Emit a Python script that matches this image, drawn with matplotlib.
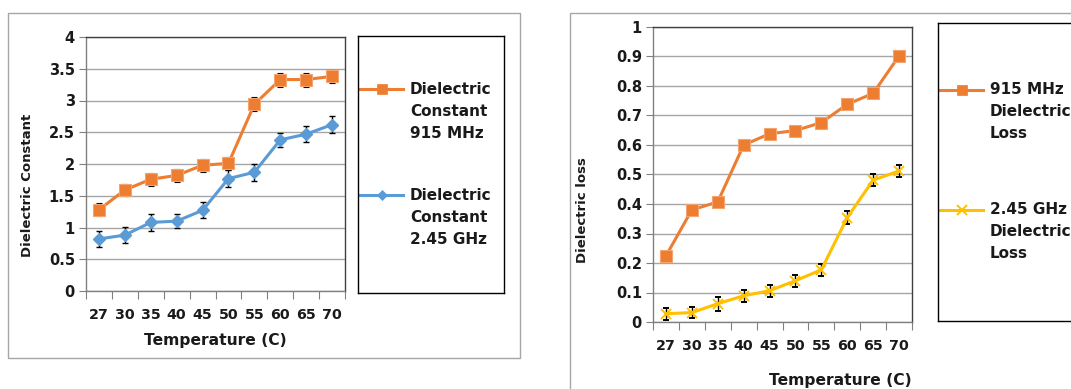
import matplotlib
matplotlib.use('Agg')
import matplotlib.pyplot as plt
from matplotlib.patches import Rectangle
import numpy as np

# ---------------- data ----------------
temps = ['27', '30', '35', '40', '45', '50', '55', '60', '65', '70']

dc_915 = [1.28, 1.59, 1.76, 1.82, 1.98, 2.01, 2.94, 3.33, 3.33, 3.38]
dc_915_err = [0.10, 0.10, 0.10, 0.10, 0.10, 0.10, 0.11, 0.11, 0.11, 0.10]
dc_245 = [0.82, 0.88, 1.08, 1.10, 1.27, 1.77, 1.87, 2.38, 2.47, 2.62]
dc_245_err = [0.125, 0.125, 0.13, 0.115, 0.125, 0.13, 0.13, 0.115, 0.13, 0.13]

dl_915 = [0.224, 0.380, 0.407, 0.600, 0.638, 0.649, 0.676, 0.738, 0.775, 0.902]
dl_915_err = [0.015, 0.015, 0.015, 0.015, 0.015, 0.012, 0.015, 0.015, 0.015, 0.015]
dl_245 = [0.028, 0.032, 0.062, 0.089, 0.106, 0.140, 0.177, 0.354, 0.481, 0.512]
dl_245_err = [0.021, 0.020, 0.024, 0.020, 0.021, 0.020, 0.021, 0.021, 0.021, 0.021]

left_labels = ['Dielectric\nConstant\n915 MHz', 'Dielectric\nConstant\n2.45 GHz']
right_labels = ['915 MHz\nDielectric\nLoss', '2.45 GHz\nDielectric\nLoss']
left_yticks = [0, 0.5, 1, 1.5, 2, 2.5, 3, 3.5, 4]
left_yticklabels = ['0', '0.5', '1', '1.5', '2', '2.5', '3', '3.5', '4']
right_yticks = [0, 0.1, 0.2, 0.3, 0.4, 0.5, 0.6, 0.7, 0.8, 0.9, 1]
right_yticklabels = ['0', '0.1', '0.2', '0.3', '0.4', '0.5', '0.6', '0.7', '0.8', '0.9', '1']

ORANGE = '#ED7D31'
BLUE = '#5B9BD5'
YELLOW = '#FFC000'
TEXT = '#1a1a1a'

W, H = 1071, 389
plt.rcParams['font.family'] = ['DejaVu Sans']
fig = plt.figure(figsize=(W / 100, H / 100), dpi=100)
fig.patch.set_facecolor('white')


def fr(x0, y0, x1, y1):
    """pixel box (top-left origin) -> figure fraction [l, b, w, h]"""
    return [x0 / W, 1 - y1 / H, (x1 - x0) / W, (y1 - y0) / H]


# outer chart frames
for (x0, y0, x1, y1) in [(8, 13, 520, 358), (570, 13, 1100, 420)]:
    l, b, w, h = fr(x0, y0, x1, y1)
    fig.patches.append(Rectangle((l, b), w, h, transform=fig.transFigure,
                                 fill=False, edgecolor='#A6A6A6', lw=1.0, zorder=0))

x = np.arange(len(temps)) + 0.5


def style_axes(ax, yticks, yticklabels, ymax):
    ax.set_xlim(0, len(temps))
    ax.set_ylim(0, ymax)
    ax.set_yticks(yticks)
    ax.set_yticklabels(yticklabels, fontsize=10.5, fontweight='bold', color=TEXT)
    ax.set_xticks(np.arange(len(temps) + 1))
    ax.set_xticklabels([])
    ax.set_xticks(x, minor=True)
    ax.set_xticklabels(temps, minor=True, fontsize=10.3, fontweight='bold', color=TEXT)
    ax.tick_params(axis='x', which='major', length=6, color='#808080', direction='out')
    ax.tick_params(axis='x', which='minor', length=0, pad=12)
    ax.tick_params(axis='y', length=5, color='#808080', direction='out', pad=3)
    ax.grid(axis='y', color='#A6A6A6', lw=1.0)
    ax.set_axisbelow(True)
    for s in ax.spines.values():
        s.set_color('#404040')
        s.set_linewidth(1.0)
    ax.spines['left'].set_color('#808080')
    ax.spines['bottom'].set_color('#808080')


EB = dict(ecolor='black', elinewidth=1.0, capsize=2.5, capthick=1.0, zorder=3)

# ---------------- left chart ----------------
ax1 = fig.add_axes(fr(86, 37, 345, 291))
style_axes(ax1, left_yticks, left_yticklabels, 4)
ax1.errorbar(x, dc_915, yerr=dc_915_err, color=ORANGE, lw=2.2, marker='s', ms=8,
             mec='#F4A46E', mew=0.8, **EB)
ax1.errorbar(x, dc_245, yerr=dc_245_err, color=BLUE, lw=2.2, marker='D', ms=6, **EB)
fig.text(28 / W, 1 - 185 / H, 'Dielectric Constant', rotation=90, ha='center', va='center',
         fontsize=9.5, fontweight='bold', color=TEXT)
fig.text(215 / W, 1 - 340 / H, 'Temperature (C)', ha='center', va='center',
         fontsize=11.2, fontweight='bold', color=TEXT)

# ---------------- right chart ----------------
ax2 = fig.add_axes(fr(653, 27, 912, 322))
style_axes(ax2, right_yticks, right_yticklabels, 1)
ax2.errorbar(x, dl_915, yerr=dl_915_err, color=ORANGE, lw=2.2, marker='s', ms=8,
             mec='#F4A46E', mew=0.8, **EB)
ax2.errorbar(x, dl_245, yerr=dl_245_err, color=YELLOW, lw=2.2, marker='x', ms=7, mew=1.4, **EB)
fig.text(583 / W, 1 - 210 / H, 'Dielectric loss', rotation=90, ha='center', va='center',
         fontsize=9.5, fontweight='bold', color=TEXT)
fig.text(840 / W, 1 - 380 / H, 'Temperature (C)', ha='center', va='center',
         fontsize=11.2, fontweight='bold', color=TEXT)


# ---------------- legends (boxes with handles) ----------------
def legend_box(box, entries, line_x, text_x, first_ys, spacing):
    x0, y0, x1, y1 = box
    lax = fig.add_axes(fr(x0, y0, x1, y1))
    lax.set_xlim(x0, x1)
    lax.set_ylim(y1, y0)
    lax.set_xticks([])
    lax.set_yticks([])
    for s in lax.spines.values():
        s.set_color('black')
        s.set_linewidth(1.0)
    for (label, color, marker, ms, mew), ys in zip(entries, first_ys):
        lax.plot(line_x, [ys, ys], color=color, lw=2.2)
        lax.plot([(line_x[0] + line_x[1]) / 2], [ys], color=color, marker=marker, ms=ms, mew=mew,
                 ls='none')
        for i, line in enumerate(label.split('\n')):
            lax.text(text_x, ys + i * spacing, line, ha='left', va='center',
                     fontsize=11, fontweight='bold', color=TEXT)


legend_box((358, 36, 504, 293),
           [(left_labels[0], ORANGE, 's', 7, 0.5), (left_labels[1], BLUE, 'D', 5, 0.5)],
           [360, 403], 410, [89, 195], 22)
legend_box((938, 23, 1100, 321),
           [(right_labels[0], ORANGE, 's', 7, 0.5), (right_labels[1], YELLOW, 'x', 7, 1.4)],
           [940, 983], 990, [90, 210], 22)

fig.savefig('out.png', dpi=100, facecolor='white')
